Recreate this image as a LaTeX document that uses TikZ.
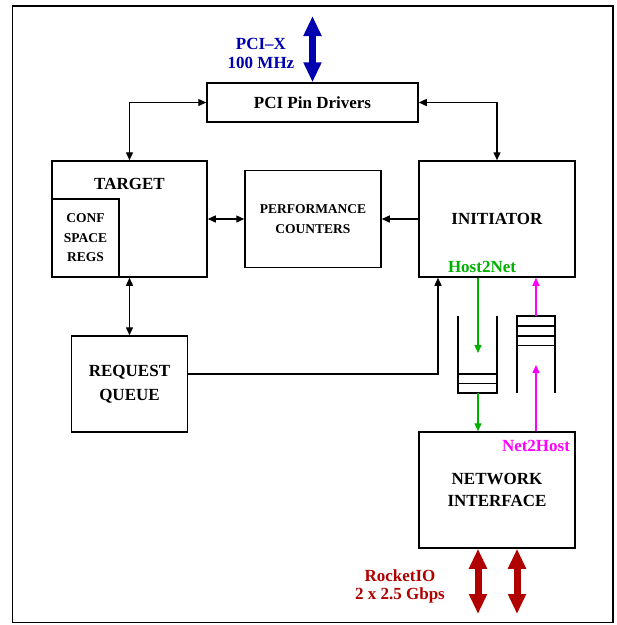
\documentclass[tikz,border=0pt]{standalone}
\usepackage{fontspec}
\setmainfont{Liberation Serif}
\usetikzlibrary{arrows.meta}
\definecolor{pciblue}{RGB}{0,0,176}
\definecolor{hgreen}{RGB}{0,176,0}
\definecolor{nmag}{RGB}{255,0,255}
\definecolor{rred}{RGB}{176,0,0}
\begin{document}
\begin{tikzpicture}[x=1pt,y=-1pt,
  font=\bfseries\fontsize{17}{22}\selectfont,
  blk/.style={draw, line width=1.5pt, inner sep=0pt, align=center},
  small/.style={font=\bfseries\fontsize{13.5}{20}\selectfont},
  conn/.style={line width=1.4pt},
  tip/.tip={Triangle[length=8pt,width=7pt]},
  bigtip/.tip={Triangle[length=20pt,width=17pt]},
  fifo/.style={line width=1.5pt}]
\useasboundingbox (0,0) rectangle (617,625);
\draw[line width=1.5pt] (12.5,6) rectangle (613,622.5);

% boxes
\node[blk, minimum width=211pt, minimum height=39pt] (pci) at (312.5,102.5) {PCI Pin Drivers};
\node[blk, minimum width=155pt, minimum height=116pt] (target) at (129.5,219) {};
\node (targetlbl) at (129.5,184) {TARGET};
\node[blk, small, minimum width=67pt, minimum height=78pt, font=\bfseries\fontsize{13.5}{19.5}\selectfont] (conf) at (85.5,238) {CONF\\SPACE\\REGS};
\node[blk, small, minimum width=136pt, minimum height=97pt] (perf) at (313,219) {PERFORMANCE\\COUNTERS};
\node[blk, minimum width=156pt, minimum height=116pt] (init) at (497,219) {INITIATOR};
\node[blk, minimum width=116pt, minimum height=96pt, font=\bfseries\fontsize{17}{24}\selectfont] (reqq) at (129.5,384) {REQUEST\\QUEUE};
\node[blk, minimum width=156pt, minimum height=116pt] (netif) at (497,490) {NETWORK\\INTERFACE};

% labels
\node[text=pciblue, align=center, font=\bfseries\fontsize{17}{19}\selectfont] (pcix) at (261,53.5) {PCI--X\\100 MHz};
\node[text=rred, align=center, font=\bfseries\fontsize{17}{18}\selectfont] (rio) at (400,586) {RocketIO\\2 x 2.5 Gbps};
\node[text=hgreen] (h2n) at (482,267) {Host2Net};
\node[text=nmag] (n2h) at (536,446) {Net2Host};

% black connectors
\draw[conn, tip-tip] (pci.west) -| (target.north);
\draw[conn, tip-tip] (pci.east) -| (init.north);
\draw[conn, tip-tip] (target.east) -- (perf.west);
\draw[conn, -tip] (init.west) -- (perf.east);
\draw[conn, tip-tip] (target.south) -- (reqq.north);
\coordinate (iq) at ([xshift=-59pt]init.south);
\draw[conn, -tip] ([yshift=10pt]reqq.east) -| (iq);

% FIFOs
\coordinate (f1tl) at (458,316);
\coordinate (f1tr) at (497,316);
\draw[fifo] (f1tl) -- (458,393) -- (497,393) -- (f1tr);
\draw[fifo] (458,374) -- (497,374);
\draw[fifo] (458,383.5) -- (497,383.5);
\coordinate (f1b) at (478,393);
\draw[fifo] (517,393) -- (517,316) -- (555,316) -- (555,393);
\draw[fifo] (517,326) -- (555,326);
\draw[fifo] (517,336) -- (555,336);
\draw[fifo] (517,345.5) -- (555,345.5);
\coordinate (f2t) at (536,316);

% green and magenta
\coordinate (gtop) at ([xshift=-19pt]init.south);
\coordinate (gin) at (478,353);
\draw[conn, hgreen, -tip] (gtop) -- (gin);
\draw[conn, hgreen, -tip] (f1b) -- ([xshift=-19pt]netif.north);
\coordinate (min) at (536,365);
\draw[conn, nmag, -tip] ([xshift=39pt]netif.north) -- (min);
\draw[conn, nmag, -tip] (f2t) -- ([xshift=39pt]init.south);

% big arrows
\coordinate (pcitop) at (312.5,16);
\draw[pciblue, line width=7pt, bigtip-bigtip] (pcitop) -- (pci.north);
\coordinate (r1) at (478,614);
\coordinate (r2) at (517,614);
\draw[rred, line width=7pt, bigtip-bigtip] ([xshift=-19pt]netif.south) -- (r1);
\draw[rred, line width=7pt, bigtip-bigtip] ([xshift=20pt]netif.south) -- (r2);
\end{tikzpicture}
\end{document}
